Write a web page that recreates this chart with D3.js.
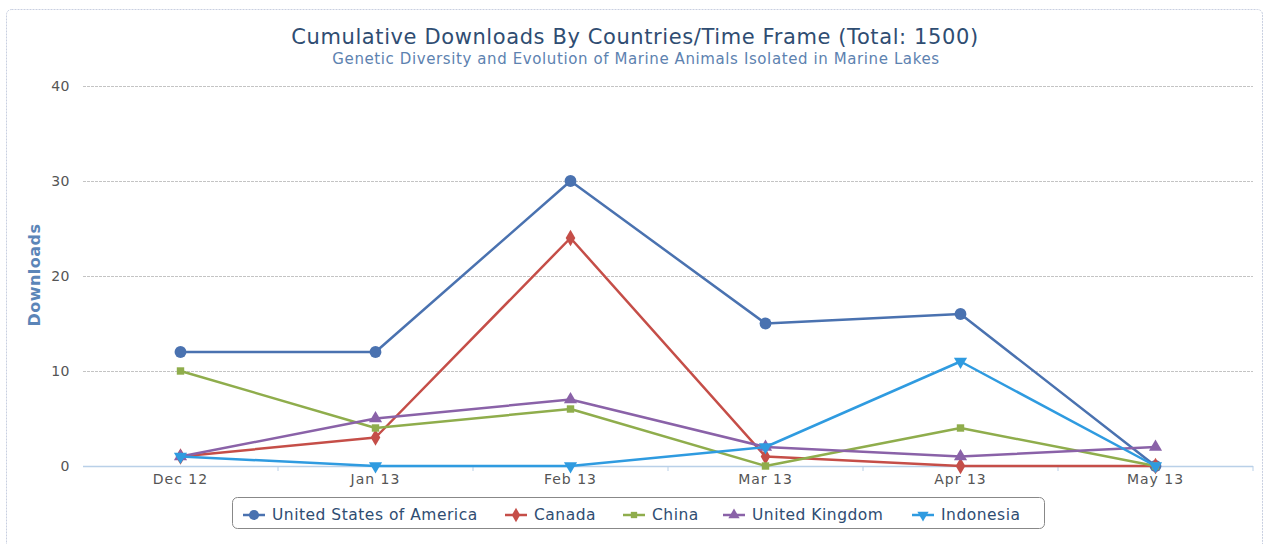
<!DOCTYPE html>
<html>
<head>
<meta charset="utf-8">
<script src="https://cdn.jsdelivr.net/npm/d3@7"></script>
<style>
html,body{margin:0;padding:0;background:#fff;}
svg{display:block;font-family:"DejaVu Sans",sans-serif;}
</style>
</head>
<body>
<svg id="chart" width="1265" height="544"></svg>
<script>
const categories = ["Dec 12","Jan 13","Feb 13","Mar 13","Apr 13","May 13"];
const seriesNames = ["United States of America","Canada","China","United Kingdom","Indonesia"];
const usa = [12,12,30,15,16,0];
const canada = [1,3,24,1,0,0];
const china = [10,4,6,0,4,0];
const uk = [1,5,7,2,1,2];
const indonesia = [1,0,0,2,11,0];
const yTicks = [0,10,20,30,40];
const colors = ["#4a72b0","#c54e48","#8fad4c","#8a62a8","#2f9be0"];
const symbols = [d3.symbolCircle,d3.symbolDiamond,d3.symbolSquare,d3.symbolTriangle,"triDown"];

const series = [usa,canada,china,uk,indonesia].map((v,i)=>({name:seriesNames[i],values:v,color:colors[i],symbol:symbols[i]}));

const svg = d3.select("#chart");
const m={left:83,right:1253,top:86,bottom:466};

// chart border
svg.append("rect").attr("x",6.5).attr("y",9.5).attr("width",1256).attr("height",560)
  .attr("rx",5).attr("fill","none").attr("stroke","#c8cfe0").attr("stroke-width",1).attr("stroke-dasharray","2,1");

const x = d3.scaleBand().domain(categories).range([m.left,m.right]);
const y = d3.scaleLinear().domain([0,40]).range([m.bottom,m.top]);

// gridlines
svg.append("g").selectAll("line").data(yTicks.filter(t=>t>0)).join("line")
  .attr("x1",m.left).attr("x2",m.right)
  .attr("y1",d=>Math.round(y(d))+0.5).attr("y2",d=>Math.round(y(d))+0.5)
  .attr("stroke","#c4c4c4").attr("stroke-width",1).attr("stroke-dasharray","3,1");

// y axis labels
const yAxis = d3.axisLeft(y).tickValues(yTicks).tickSize(0).tickPadding(0);
const gy = svg.append("g").attr("transform",`translate(${70},0)`).call(yAxis);
gy.select(".domain").remove();
gy.selectAll("text").attr("font-size","14px").attr("fill","#555").attr("font-family","DejaVu Sans").attr("letter-spacing","0.5px").attr("dy","0.35em");

// x axis
const xAxis = d3.axisBottom(x).tickSize(0).tickPadding(8);
const gx = svg.append("g").attr("transform",`translate(0,${m.bottom+0.5})`).call(xAxis);
gx.select(".domain").attr("stroke","#b9d0e8").attr("stroke-width",1.5).attr("d",`M${m.left},0H${m.right}`);
gx.selectAll("text").attr("font-size","14px").attr("fill","#555").attr("font-family","DejaVu Sans").attr("letter-spacing","1px").attr("dy","0.71em");
// tick marks at band boundaries
const bounds = categories.map(c=>x(c)).concat([m.right]);
svg.append("g").selectAll("line").data(bounds.slice(1)).join("line")
  .attr("x1",d=>d).attr("x2",d=>d).attr("y1",m.bottom).attr("y2",m.bottom+5)
  .attr("stroke","#b9d0e8").attr("stroke-width",1);

// y axis title
svg.append("text").attr("transform",`translate(40,275) rotate(-90)`)
  .attr("text-anchor","middle").attr("font-size","16px").attr("font-weight","bold").attr("letter-spacing","0.5px").attr("fill","#5b85b8").text("Downloads");

// titles
svg.append("text").attr("x",635).attr("y",44).attr("text-anchor","middle").attr("font-size","21px").attr("letter-spacing","0.6px").attr("fill","#2f4d72")
  .text("Cumulative Downloads By Countries/Time Frame (Total: 1500)");
svg.append("text").attr("x",636).attr("y",64).attr("text-anchor","middle").attr("font-size","15px").attr("letter-spacing","0.6px").attr("fill","#5d82b0")
  .text("Genetic Diversity and Evolution of Marine Animals Isolated in Marine Lakes");

function symPath(s,size){
  if(s==="triDown") return d3.symbol().type(d3.symbolTriangle).size(size)();
  return d3.symbol().type(s).size(size)();
}
function symTransform(s,px,py){
  return s==="triDown" ? `translate(${px},${py}) rotate(180)` : `translate(${px},${py})`;
}
const sizes = [110,80,55,75,75];
const legendSizes = [80,60,40,55,55];

const cx = c=>x(c)+x.bandwidth()/2;
const line = d3.line().x((d,i)=>cx(categories[i])).y(d=>y(d));

const gs = svg.append("g").selectAll("g").data(series).join("g");
gs.append("path").attr("d",d=>line(d.values)).attr("fill","none").attr("stroke",d=>d.color).attr("stroke-width",2.5)
  .attr("stroke-linejoin","round");
gs.each(function(s,si){
  d3.select(this).selectAll("path.m").data(s.values).join("path").attr("class","m")
    .attr("d",symPath(s.symbol,sizes[si]))
    .attr("transform",(d,i)=>symTransform(s.symbol,cx(categories[i]),y(d)))
    .attr("fill",s.color);
});

// legend
const lg = svg.append("g");
lg.append("rect").attr("x",232.5).attr("y",497.5).attr("width",812).attr("height",31).attr("rx",5)
  .attr("fill","#fff").attr("stroke","#888").attr("stroke-width",1);
const legendX = [243,505,623,723,912];
series.forEach((s,i)=>{
  const g = lg.append("g").attr("transform",`translate(${legendX[i]},515)`);
  g.append("line").attr("x1",0).attr("x2",22).attr("y1",0).attr("y2",0).attr("stroke",s.color).attr("stroke-width",2.5);
  g.append("path").attr("d",symPath(s.symbol,legendSizes[i])).attr("transform",symTransform(s.symbol,11,0)).attr("fill",s.color);
  g.append("text").attr("x",29).attr("y",0).attr("dy","0.35em").attr("font-size","15.5px").attr("letter-spacing","0.5px").attr("fill","#2f4d72").text(s.name);
});
</script>
</body>
</html>
